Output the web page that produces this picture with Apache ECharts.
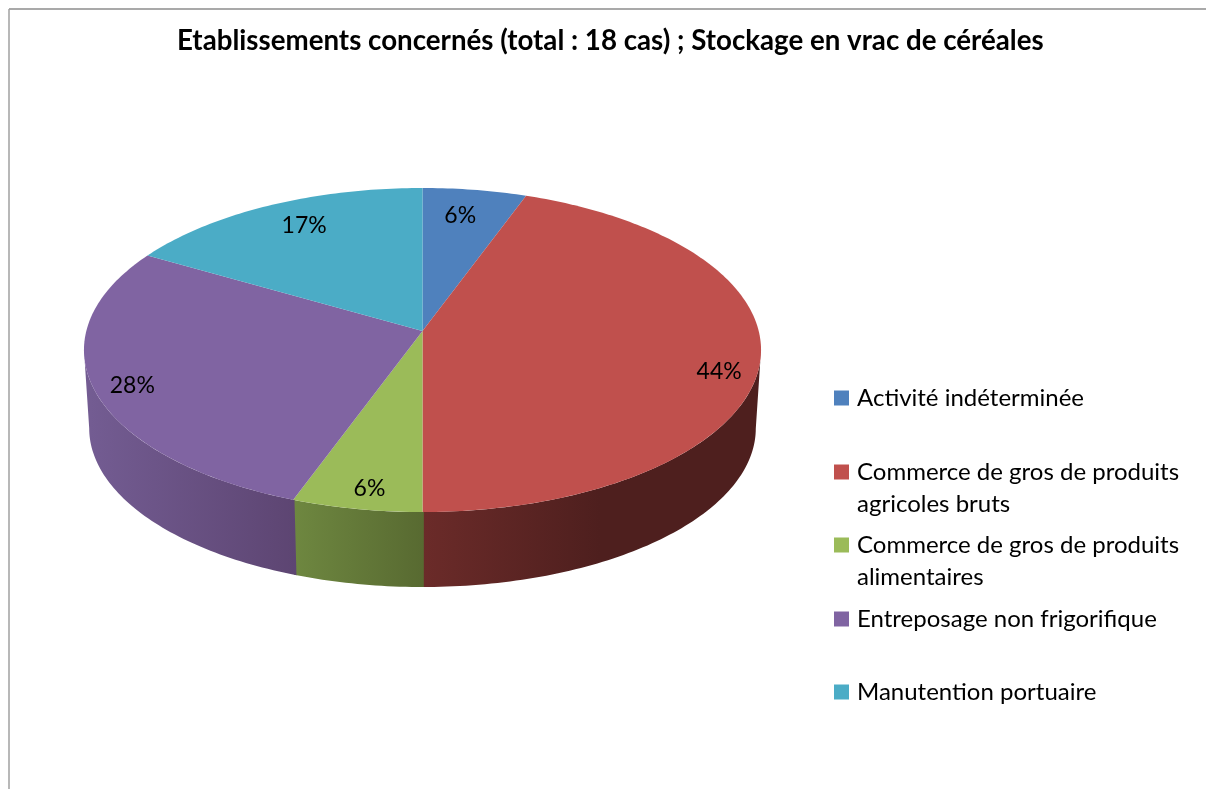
<!DOCTYPE html>
<html>
<head>
<meta charset="utf-8">
<title>Etablissements concernés</title>
<script src="https://cdn.jsdelivr.net/npm/echarts@6/dist/echarts.min.js"></script>
<style>
  html, body { margin: 0; padding: 0; background: #fff; }
  #myChart { width: 1206px; height: 789px; }
</style>
</head>
<body>
<div id="myChart"></div>
<script>
const titleText = "Etablissements concernés (total : 18 cas) ; Stockage en vrac de céréales";
const categories = [
  "Activité indéterminée",
  "Commerce de gros de produits\nagricoles bruts",
  "Commerce de gros de produits\nalimentaires",
  "Entreposage non frigorifique",
  "Manutention portuaire"
];
const counts = [1, 8, 1, 5, 3];

const topColors = ["#4f81bd", "#c0504d", "#9bbb59", "#8064a2", "#4bacc6"];
// flanc du camembert : couleur a gauche, couleur a droite, x ou le degrade s'arrete
const sideShades = [
  null,
  ["#6b2b29", "#4e1f1e", 423, 600],
  ["#6e8740", "#586a31", 295, 423],
  ["#735c92", "#5d4572", 90, 295],
  null
];
const legendTops = [382, 424, 497, 603, 676];
const labelRadius = [0.8, 0.88, 0.85, 0.88, 0.8];
const labelShift = [[-5, 0], [0, 16], [2, 9], [-2, 5], [6, -3]];

const total = counts.reduce((a, b) => a + b, 0);
const starts = counts.map((_, i) => counts.slice(0, i).reduce((a, b) => a + b, 0) / total * 360);

// projection en perspective du disque du haut et de celui du bas
const topDisc = { cx: 422.5, cy: 331, a: 336.2, b: 159.8, k: 0.1173 };
const lowDisc = { cx: 422.5, cy: 409.6, a: 331, b: 156.6, k: 0.1173 };
// angles ou le disque atteint sa largeur maximale : le flanc s'arrete la
const sideFrom = 90 + Math.asin(topDisc.k) * 180 / Math.PI;
const sideTo = 360 - sideFrom;

function project(d, deg, r) {
  const t = deg * Math.PI / 180;
  const x = r * Math.sin(t), y = r * Math.cos(t);
  const w = 1 + d.k * y;
  return [d.cx + d.a * x / w, d.cy - d.b * y / w];
}

function arc(d, from, to) {
  const pts = [];
  const steps = Math.ceil(Math.abs(to - from)) + 1;
  for (let s = 0; s <= steps; s++) {
    pts.push(project(d, from + (to - from) * s / steps, 1));
  }
  return pts;
}

function makeRenderItem(i) {
  return function (params, api) {
    const from = starts[i];
    const to = from + api.value(0) / total * 360;
    const children = [];
    const shade = sideShades[i];
    if (shade) {
      // on deborde un peu sous la part voisine pour eviter un filet blanc
      const a0 = Math.max(from - 0.2, sideFrom);
      const a1 = Math.min(to + 0.2, sideTo);
      children.push({
        type: "polygon",
        z2: 1,
        shape: { points: arc(topDisc, a0, a1).concat(arc(lowDisc, a1, a0)) },
        style: {
          fill: new echarts.graphic.LinearGradient(shade[2], 0, shade[3], 0, [
            { offset: 0, color: shade[0] },
            { offset: 1, color: shade[1] }
          ], true)
        }
      });
    }
    children.push({
      type: "polygon",
      z2: 10,
      shape: { points: [[topDisc.cx, topDisc.cy]].concat(arc(topDisc, from, to)) },
      style: { fill: topColors[i] }
    });
    const lp = project(topDisc, (from + to) / 2, labelRadius[i]);
    children.push({
      type: "text",
      z2: 20,
      x: lp[0] + labelShift[i][0],
      y: lp[1] + labelShift[i][1],
      style: {
        text: Math.round(api.value(0) / total * 100) + "%",
        fill: "#000",
        font: "23px Lato",
        align: "center",
        verticalAlign: "middle"
      }
    });
    return { type: "group", children: children };
  };
}

const myChart = echarts.init(document.getElementById("myChart"));

const option = {
  animation: false,
  backgroundColor: "#fff",
  title: {
    text: titleText,
    left: 177,
    top: 27,
    padding: 0,
    textStyle: { fontFamily: "Lato", fontWeight: "bold", fontSize: 27.7, color: "#000" }
  },
  legend: categories.map((name, i) => ({
    data: [name],
    left: 834,
    top: legendTops[i],
    padding: 0,
    selectedMode: false,
    icon: "rect",
    itemWidth: 15,
    itemHeight: 15,
    // ligne vide au-dessus : le carre reste aligne sur la premiere ligne
    formatter: (n) => (n.indexOf("\n") >= 0 ? " \n" + n : n),
    textStyle: { fontFamily: "Lato", fontSize: 24, color: "#000", lineHeight: 32, padding: [0, 0, 0, 3] }
  })),
  graphic: [
    { type: "line", shape: { x1: 9, y1: 9, x2: 1206, y2: 9 }, style: { stroke: "#8c8c8c", lineWidth: 1.5 } },
    { type: "line", shape: { x1: 9, y1: 9, x2: 9, y2: 789 }, style: { stroke: "#a0a0a0", lineWidth: 1.5 } }
  ],
  series: categories.map((name, i) => ({
    name: name,
    type: "custom",
    coordinateSystem: "none",
    itemStyle: { color: topColors[i] },
    renderItem: makeRenderItem(i),
    data: [[counts[i]]]
  }))
};

myChart.setOption(option);
</script>
</body>
</html>
